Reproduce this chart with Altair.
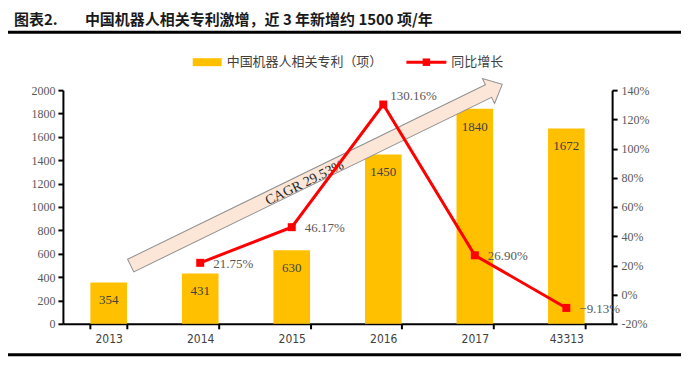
import altair as alt
import pandas as pd

# ---- data ----
years = ["2013", "2014", "2015", "2016", "2017", "43313"]
patents = [354, 431, 630, 1450, 1840, 1672]
growth = [None, 21.75, 46.17, 130.16, 26.90, -9.13]
left_ticks = [0, 200, 400, 600, 800, 1000, 1200, 1400, 1600, 1800, 2000]
right_ticks = [-20, 0, 20, 40, 60, 80, 100, 120, 140]

title_prefix = "图表2."
title_main = "中国机器人相关专利激增，近 3 年新增约 1500 项/年"
legend_bar = "中国机器人相关专利（项）"
legend_line = "同比增长"
cagr_text = "CAGR 29.53%"

# annotation arrow centre, in (band-index, left-axis) units
arrow_x = [2.77]
arrow_y = [1274]
cagr_x = [2.64]
cagr_y = [1205]

df = pd.DataFrame({"year": years, "patents": patents, "growth": growth})
arrow_df = pd.DataFrame({"ax": arrow_x, "ay": arrow_y})
cagr_df = pd.DataFrame({"cx": cagr_x, "cy": cagr_y, "t": [cagr_text]})
one = pd.DataFrame({"a": [0]})

SERIF = "Liberation Serif"
CJK = "Noto Sans CJK SC"
NARROW = "DejaVu Sans Condensed, Liberation Sans Narrow, Liberation Sans"
GOLD = "#FFC000"
RED = "#FF0000"

X_SCALE = alt.Scale(domain=years, paddingInner=0.6, paddingOuter=0.3)
YL = alt.Scale(domain=[0, 2000], nice=False, zero=True)
YR = alt.Scale(domain=[-20, 140], nice=False, zero=False)

x_axis = alt.Axis(title=None, labelAngle=0, tickBand="extent", domainColor="black",
                  domainWidth=2, tickColor="black", tickWidth=2, tickSize=5,
                  labelFont=NARROW, labelFontSize=12,
                  labelColor="#404040", labelPadding=5)
yl_axis = alt.Axis(title=None, values=left_ticks, orient="left", grid=False,
                   format="d",
                   domainColor="black", domainWidth=2, tickColor="black",
                   tickWidth=2, tickSize=5, labelFont=SERIF, labelFontSize=12,
                   labelColor="#595959", labelPadding=3)
yr_axis = alt.Axis(title=None, values=right_ticks, orient="right", grid=False,
                   domainColor="black", domainWidth=2, tickColor="black",
                   tickWidth=2, tickSize=5, labelFont=SERIF, labelFontSize=12,
                   labelColor="#595959", labelPadding=4,
                   labelExpr="datum.value + '%'")

base = alt.Chart(df)
xN = alt.X("year:N", sort=years, scale=X_SCALE, axis=None)

bars = base.mark_bar(color=GOLD).encode(
    x=alt.X("year:N", sort=years, scale=X_SCALE, axis=x_axis),
    y=alt.Y("patents:Q", scale=YL, axis=yl_axis),
)
bar_text = base.mark_text(baseline="middle", dy=18, font=SERIF, fontSize=13,
                          color="#404040").encode(
    x=xN, y=alt.Y("patents:Q", scale=YL, axis=None), text="patents:Q")

valid = base.transform_filter("isValid(datum.growth)")
line = valid.mark_line(color=RED, strokeWidth=3).encode(
    x=xN, y=alt.Y("growth:Q", scale=YR, axis=yr_axis))
pts = valid.mark_square(size=64, color=RED, opacity=1).encode(
    x=xN, y=alt.Y("growth:Q", scale=YR, axis=None))
lbl = valid.transform_calculate(lbl="format(datum.growth, '.2f') + '%'")
line_text = lbl.transform_filter("datum.growth < 100").mark_text(
    align="left", baseline="middle", dx=13, dy=1, font=SERIF, fontSize=13,
    color="#595959").encode(x=xN, y=alt.Y("growth:Q", scale=YR, axis=None),
                            text="lbl:N")
peak_text = lbl.transform_filter("datum.growth >= 100").mark_text(
    align="left", baseline="middle", dx=7, dy=-9, font=SERIF, fontSize=13,
    color="#595959").encode(x=xN, y=alt.Y("growth:Q", scale=YR, axis=None),
                            text="lbl:N")

ARROW_PATH = ("M -1 -0.034 L 0.926 -0.034 L 0.926 -0.067 L 1 0 "
              "L 0.926 0.067 L 0.926 0.034 L -1 0.034 Z")
XQ = alt.Scale(domain=[0, 6], nice=False, zero=False)
arrow = alt.Chart(arrow_df).mark_point(
    shape=ARROW_PATH, size=414 * 414, angle=334, filled=True, fill="#FCE6D8",
    stroke="#8f8f8f", strokeWidth=1, opacity=1, fillOpacity=1, strokeOpacity=1
).encode(x=alt.X("ax:Q", scale=XQ, axis=None),
         y=alt.Y("ay:Q", scale=YL, axis=None))
cagr = alt.Chart(cagr_df).mark_text(
    angle=334, font=SERIF, fontSize=14, color="#262626", baseline="middle"
).encode(x=alt.X("cx:Q", scale=XQ, axis=None),
         y=alt.Y("cy:Q", scale=YL, axis=None), text="t:N")

deco = alt.Chart(one)
top_rule = deco.mark_rule(color="black", strokeWidth=3).encode(
    x=alt.value(-55), x2=alt.value(619), y=alt.value(-58))
bot_rule = deco.mark_rule(color="black", strokeWidth=3).encode(
    x=alt.value(-55), x2=alt.value(619), y=alt.value(265))
t1 = deco.mark_text(align="left", baseline="middle", font=CJK, fontWeight="bold",
                    fontSize=15, color="#1a1a1a").encode(
    x=alt.value(-49), y=alt.value(-70), text=alt.value(title_prefix))
t2 = deco.mark_text(align="left", baseline="middle", font=CJK, fontWeight="bold",
                    fontSize=15, color="#1a1a1a").encode(
    x=alt.value(22), y=alt.value(-70), text=alt.value(title_main))
leg_rect = deco.mark_rect(color=GOLD).encode(
    x=alt.value(130), x2=alt.value(159), y=alt.value(-32), y2=alt.value(-24))
leg_t1 = deco.mark_text(align="left", baseline="middle", font=CJK, fontSize=13,
                        color="#404040").encode(
    x=alt.value(164), y=alt.value(-28), text=alt.value(legend_bar))
leg_line = deco.mark_rule(color=RED, strokeWidth=3).encode(
    x=alt.value(344), x2=alt.value(384), y=alt.value(-28))
leg_sq = deco.mark_square(size=56, color=RED, opacity=1).encode(
    x=alt.value(364), y=alt.value(-28))
leg_t2 = deco.mark_text(align="left", baseline="middle", font=CJK, fontSize=13,
                        color="#404040").encode(
    x=alt.value(389), y=alt.value(-28), text=alt.value(legend_line))

chart = alt.layer(
    bars, bar_text, arrow, cagr, line, pts, line_text, peak_text,
    top_rule, bot_rule, t1, t2, leg_rect, leg_t1, leg_line, leg_sq, leg_t2
).resolve_scale(x="independent", y="independent").properties(
    width=550, height=234,
    padding={"left": 55, "top": 82, "right": 70, "bottom": 43},
    autosize=alt.AutoSizeParams(type="none"),
    background="white",
).configure_view(stroke=None)

chart.save("out.html", embed_options={"renderer": "svg", "actions": False})
